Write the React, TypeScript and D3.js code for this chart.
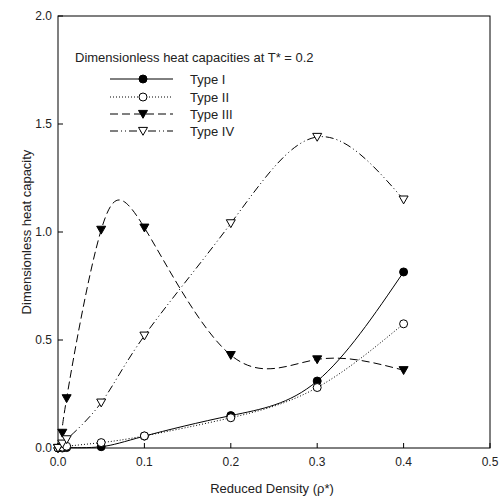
import React from "react";
import * as d3 from "d3";

const densities = [0, 0.005, 0.01, 0.05, 0.1, 0.2, 0.3, 0.4];
const typeI = [0, 0.0, 0.002, 0.006, 0.055, 0.15, 0.31, 0.815];
const typeII = [0, 0.004, 0.008, 0.025, 0.056, 0.14, 0.28, 0.575];
const typeIII = [0, 0.07, 0.23, 1.01, 1.02, 0.43, 0.41, 0.36];
const typeIV = [0, 0.02, 0.04, 0.21, 0.52, 1.04, 1.44, 1.15];
const xTicks = [0, 0.1, 0.2, 0.3, 0.4, 0.5];
const yTicks = [0, 0.5, 1.0, 1.5, 2.0];
const seriesNames = ["Type I", "Type II", "Type III", "Type IV"];

const W = 500, H = 498;
const left = 58, right = 490, top = 16, bottom = 448;
const FONT = "Liberation Sans, Arial, sans-serif";

type Style = { dash: string | undefined; marker: string; fill: string };
const styles: Style[] = [
  { dash: undefined, marker: "circle", fill: "black" },
  { dash: "1,2", marker: "circle", fill: "white" },
  { dash: "8,4", marker: "tri", fill: "black" },
  { dash: "8,3,1,3,1,3", marker: "tri", fill: "white" },
];

function Marker({ x, y, s }: { x: number; y: number; s: Style }) {
  if (s.marker === "circle") {
    return <circle cx={x} cy={y} r={4} fill={s.fill} stroke="black" strokeWidth={1} />;
  }
  const h = 4.5;
  return (
    <path
      d={`M${x - h},${y - h * 0.8} L${x + h},${y - h * 0.8} L${x},${y + h * 0.95} Z`}
      fill={s.fill}
      stroke="black"
      strokeWidth={1}
    />
  );
}

export default function App() {
  const x = d3.scaleLinear().domain([0, 0.5]).range([left, right]);
  const y = d3.scaleLinear().domain([0, 2]).range([bottom, top]);
  const all = [typeI, typeII, typeIII, typeIV];
  const line = d3
    .line<[number, number]>()
    .x((d) => x(d[0]))
    .y((d) => y(d[1]))
    .curve(d3.curveNatural);

  const legendY = [79, 97, 114, 131];

  return (
    <svg width={W} height={H} style={{ position: "absolute", left: 0, top: 0 }} fontFamily={FONT}>
      <rect x={0} y={0} width={W} height={H} fill="white" />
      {/* frame */}
      <rect x={left} y={top} width={right - left} height={bottom - top} fill="none" stroke="black" strokeWidth={1} />
      {/* ticks */}
      {xTicks.map((t) => (
        <g key={"x" + t}>
          <line x1={x(t)} x2={x(t)} y1={bottom} y2={bottom - 5} stroke="black" />
          <text x={x(t)} y={466} fontSize={12} textAnchor="middle" fill="#222">
            {t.toFixed(1)}
          </text>
        </g>
      ))}
      {yTicks.map((t) => (
        <g key={"y" + t}>
          <line x1={left} x2={left + 5} y1={y(t)} y2={y(t)} stroke="black" />
          <text x={52} y={y(t) + 4} fontSize={12} textAnchor="end" fill="#222">
            {t.toFixed(1)}
          </text>
        </g>
      ))}
      <text x={272} y={493} fontSize={13} textAnchor="middle" fill="#222">
        Reduced Density (ρ*)
      </text>
      <text transform={`translate(31,232) rotate(-90)`} fontSize={13} textAnchor="middle" fill="#222">
        Dimensionless heat capacity
      </text>
      {/* series */}
      {all.map((vals, i) => {
        const pts: [number, number][] = densities.map((d, j) => [d, vals[j]]);
        return (
          <g key={"s" + i}>
            <path d={line(pts) || ""} fill="none" stroke="black" strokeWidth={1} strokeDasharray={styles[i].dash} />
            {pts.map((p, j) => (
              <Marker key={j} x={x(p[0])} y={y(p[1])} s={styles[i]} />
            ))}
          </g>
        );
      })}
      {/* legend */}
      <text x={75} y={62} fontSize={13} fill="#222">
        Dimensionless heat capacities at T* = 0.2
      </text>
      {seriesNames.map((n, i) => (
        <g key={"l" + i}>
          <line x1={110} x2={173} y1={legendY[i]} y2={legendY[i]} stroke="black" strokeDasharray={styles[i].dash} />
          <Marker x={143} y={legendY[i]} s={styles[i]} />
          <text x={190} y={legendY[i] + 5} fontSize={13} fill="#222">
            {n}
          </text>
        </g>
      ))}
    </svg>
  );
}
